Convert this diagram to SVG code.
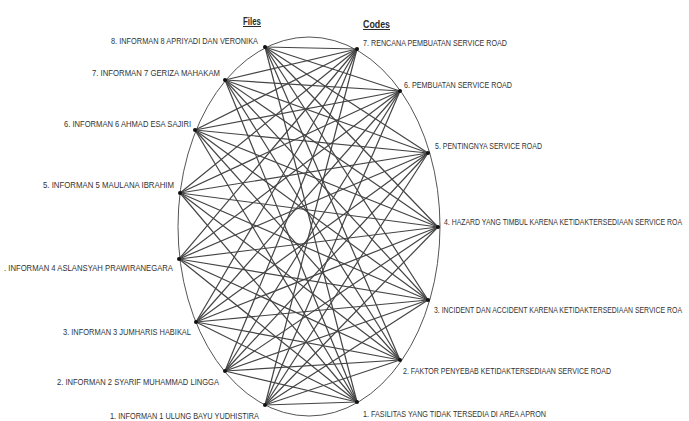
<svg xmlns="http://www.w3.org/2000/svg" width="689" height="421" viewBox="0 0 689 421">
<style>
.lbl{font-family:"Liberation Sans",Arial,sans-serif;font-size:9.5px;fill:#333;}
.lbl.sm{font-size:7px;}
.ttl{font-family:"Liberation Sans",Arial,sans-serif;font-size:10px;font-weight:bold;fill:#2a2a2a;text-decoration:underline;}
.c line{stroke:#444;stroke-width:1.2;}
.dot{fill:#111;}
</style>
<rect width="689" height="421" fill="#fff"/>
<ellipse cx="309" cy="226.5" rx="131" ry="189.5" fill="none" stroke="#555" stroke-width="1"/>
<text class="ttl" x="243" y="25" textLength="18" lengthAdjust="spacingAndGlyphs">Files</text>
<text class="ttl" x="363" y="28" textLength="27" lengthAdjust="spacingAndGlyphs">Codes</text>
<g class="c" id="connectors">
<line x1="265" y1="47" x2="357" y2="49"/><line x1="265" y1="47" x2="400" y2="91"/><line x1="265" y1="47" x2="428" y2="153"/><line x1="265" y1="47" x2="438" y2="227"/><line x1="265" y1="47" x2="428" y2="300"/><line x1="265" y1="47" x2="400" y2="360"/><line x1="265" y1="47" x2="357" y2="402"/>
<line x1="225" y1="80" x2="357" y2="49"/><line x1="225" y1="80" x2="400" y2="91"/><line x1="225" y1="80" x2="428" y2="153"/><line x1="225" y1="80" x2="438" y2="227"/><line x1="225" y1="80" x2="428" y2="300"/><line x1="225" y1="80" x2="400" y2="360"/><line x1="225" y1="80" x2="357" y2="402"/>
<line x1="195" y1="130" x2="357" y2="49"/><line x1="195" y1="130" x2="400" y2="91"/><line x1="195" y1="130" x2="428" y2="153"/><line x1="195" y1="130" x2="438" y2="227"/><line x1="195" y1="130" x2="428" y2="300"/><line x1="195" y1="130" x2="400" y2="360"/><line x1="195" y1="130" x2="357" y2="402"/>
<line x1="180" y1="193" x2="357" y2="49"/><line x1="180" y1="193" x2="400" y2="91"/><line x1="180" y1="193" x2="428" y2="153"/><line x1="180" y1="193" x2="438" y2="227"/><line x1="180" y1="193" x2="428" y2="300"/><line x1="180" y1="193" x2="400" y2="360"/><line x1="180" y1="193" x2="357" y2="402"/>
<line x1="179" y1="259" x2="357" y2="49"/><line x1="179" y1="259" x2="400" y2="91"/><line x1="179" y1="259" x2="428" y2="153"/><line x1="179" y1="259" x2="438" y2="227"/><line x1="179" y1="259" x2="428" y2="300"/><line x1="179" y1="259" x2="400" y2="360"/><line x1="179" y1="259" x2="357" y2="402"/>
<line x1="196" y1="322" x2="357" y2="49"/><line x1="196" y1="322" x2="400" y2="91"/><line x1="196" y1="322" x2="428" y2="153"/><line x1="196" y1="322" x2="438" y2="227"/><line x1="196" y1="322" x2="428" y2="300"/><line x1="196" y1="322" x2="400" y2="360"/><line x1="196" y1="322" x2="357" y2="402"/>
<line x1="225" y1="371" x2="357" y2="49"/><line x1="225" y1="371" x2="400" y2="91"/><line x1="225" y1="371" x2="428" y2="153"/><line x1="225" y1="371" x2="438" y2="227"/><line x1="225" y1="371" x2="428" y2="300"/><line x1="225" y1="371" x2="400" y2="360"/><line x1="225" y1="371" x2="357" y2="402"/>
<line x1="265" y1="405" x2="357" y2="49"/><line x1="265" y1="405" x2="400" y2="91"/><line x1="265" y1="405" x2="428" y2="153"/><line x1="265" y1="405" x2="438" y2="227"/><line x1="265" y1="405" x2="428" y2="300"/><line x1="265" y1="405" x2="400" y2="360"/><line x1="265" y1="405" x2="357" y2="402"/>
</g>
<g id="file8"><circle class="dot" cx="265" cy="47" r="2"/><text class="lbl" x="111" y="44" textLength="147" lengthAdjust="spacingAndGlyphs">8. INFORMAN 8 APRIYADI DAN VERONIKA</text></g>
<g id="file7"><circle class="dot" cx="225" cy="80" r="2"/><text class="lbl" x="92" y="76" textLength="128" lengthAdjust="spacingAndGlyphs">7. INFORMAN 7 GERIZA MAHAKAM</text></g>
<g id="file6"><circle class="dot" cx="195" cy="130" r="2"/><text class="lbl" x="64" y="127" textLength="127" lengthAdjust="spacingAndGlyphs">6. INFORMAN 6 AHMAD ESA SAJIRI</text></g>
<g id="file5"><circle class="dot" cx="180" cy="193" r="2"/><text class="lbl" x="43" y="188" textLength="131" lengthAdjust="spacingAndGlyphs">5. INFORMAN 5 MAULANA IBRAHIM</text></g>
<g id="file4"><circle class="dot" cx="179" cy="259" r="2"/><text class="lbl" x="4" y="271" textLength="169" lengthAdjust="spacingAndGlyphs">. INFORMAN 4 ASLANSYAH PRAWIRANEGARA</text></g>
<g id="file3"><circle class="dot" cx="196" cy="322" r="2"/><text class="lbl" x="63" y="335" textLength="128" lengthAdjust="spacingAndGlyphs">3. INFORMAN 3 JUMHARIS HABIKAL</text></g>
<g id="file2"><circle class="dot" cx="225" cy="371" r="2"/><text class="lbl" x="57" y="385" textLength="162" lengthAdjust="spacingAndGlyphs">2. INFORMAN 2 SYARIF MUHAMMAD LINGGA</text></g>
<g id="file1"><circle class="dot" cx="265" cy="405" r="2"/><text class="lbl" x="110" y="419" textLength="149" lengthAdjust="spacingAndGlyphs">1. INFORMAN 1 ULUNG BAYU YUDHISTIRA</text></g>
<g id="code7"><circle class="dot" cx="357" cy="49" r="2"/><text class="lbl" x="363" y="46" textLength="144" lengthAdjust="spacingAndGlyphs">7. RENCANA PEMBUATAN SERVICE ROAD</text></g>
<g id="code6"><circle class="dot" cx="400" cy="91" r="2"/><text class="lbl" x="404" y="88" textLength="108" lengthAdjust="spacingAndGlyphs">6. PEMBUATAN SERVICE ROAD</text></g>
<g id="code5"><circle class="dot" cx="428" cy="153" r="2"/><text class="lbl" x="435" y="149" textLength="107" lengthAdjust="spacingAndGlyphs">5. PENTINGNYA SERVICE ROAD</text></g>
<g id="code4"><circle class="dot" cx="438" cy="227" r="2"/><text class="lbl sm" x="0" y="0" transform="translate(444,225) scale(1,1.36)" textLength="238" lengthAdjust="spacingAndGlyphs">4. HAZARD YANG TIMBUL KARENA KETIDAKTERSEDIAAN SERVICE ROA</text></g>
<g id="code3"><circle class="dot" cx="428" cy="300" r="2"/><text class="lbl sm" x="0" y="0" transform="translate(434,313) scale(1,1.36)" textLength="248" lengthAdjust="spacingAndGlyphs">3. INCIDENT DAN ACCIDENT KARENA KETIDAKTERSEDIAAN SERVICE ROA</text></g>
<g id="code2"><circle class="dot" cx="400" cy="360" r="2"/><text class="lbl" x="403" y="374" textLength="208" lengthAdjust="spacingAndGlyphs">2. FAKTOR PENYEBAB KETIDAKTERSEDIAAN SERVICE ROAD</text></g>
<g id="code1"><circle class="dot" cx="357" cy="402" r="2"/><text class="lbl" x="363" y="417" textLength="183" lengthAdjust="spacingAndGlyphs">1. FASILITAS YANG TIDAK TERSEDIA DI AREA APRON</text></g>
</svg>
